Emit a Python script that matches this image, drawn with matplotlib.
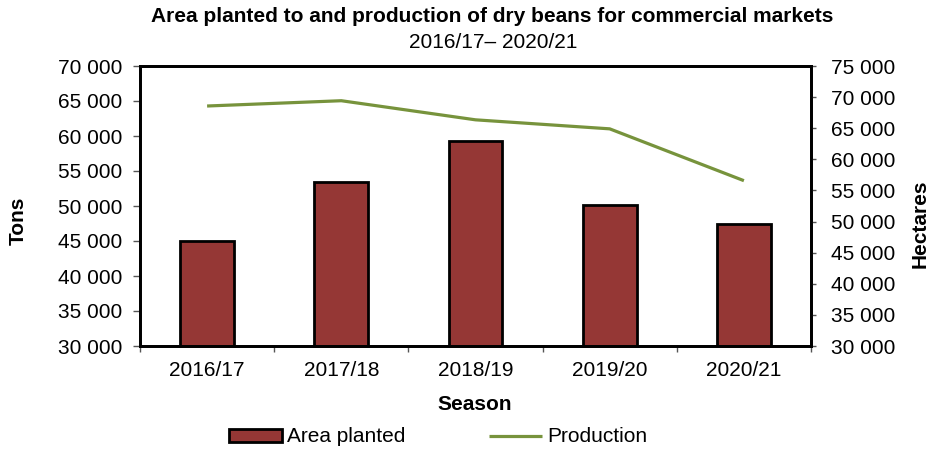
import matplotlib.pyplot as plt
import numpy as np

plt.rcParams['font.family'] = ['Liberation Sans', 'DejaVu Sans']
plt.rcParams['font.size'] = 15

seasons = ['2016/17', '2017/18', '2018/19', '2019/20', '2020/21']
area_planted = [45000, 53400, 59300, 50100, 47400]
production = [68570, 69420, 66350, 64900, 56570]

tons_ticks = list(range(30000, 70001, 5000))
hectare_ticks = list(range(30000, 75001, 5000))

bar_color = '#953735'
line_color = '#77933C'
tick_color = '#555555'


def spaced(v):
    return f'{v:,}'.replace(',', ' ')


W, H = 932, 449
fig = plt.figure(figsize=(W / 100, H / 100), dpi=100)
ax = fig.add_axes([140 / W, 1 - 346 / H, 671 / W, 280 / H])
x = np.arange(len(seasons))

ax.bar(x, area_planted, width=0.4, color=bar_color, edgecolor='black',
       linewidth=2, label='Area planted', zorder=2)
ax.set_ylim(30000, 70000)
ax.set_yticks(tons_ticks)
ax.set_yticklabels([spaced(v) for v in tons_ticks])
ax.set_xlim(-0.5, len(seasons) - 0.5)
# boundaries between seasons get the tick marks, season names sit between them
ax.set_xticks(np.arange(-0.5, len(seasons), 1))
ax.set_xticklabels([])
ax.set_xticks(x, minor=True)
ax.set_xticklabels(seasons, minor=True)
ax.tick_params(axis='x', which='minor', length=0, pad=11)
ax.tick_params(axis='x', which='major', length=4, width=1, color=tick_color)
ax.tick_params(axis='y', length=5, width=1, color=tick_color, pad=8)
for sp in ax.spines.values():
    sp.set_linewidth(2)

ax2 = ax.twinx()
ax2.plot(x, production, color=line_color, linewidth=2.3, label='Production',
         solid_capstyle='butt', zorder=3)
ax2.set_ylim(30000, 75000)
ax2.set_yticks(hectare_ticks)
ax2.set_yticklabels([spaced(v) for v in hectare_ticks])
ax2.tick_params(axis='y', length=3.5, width=1, color=tick_color, pad=11)
for sp in ax2.spines.values():
    sp.set_linewidth(2)

fig.text(18 / W, 1 - 221 / H, 'Tons', rotation=90, ha='center', va='center',
         fontweight='bold')
fig.text(920 / W, 1 - 224 / H, 'Hectares', rotation=90, ha='center', va='center',
         fontweight='bold')
fig.text(475 / W, 1 - 405 / H, 'Season', ha='center', va='center', fontweight='bold')

fig.text(492 / W, 1 - 17 / H, 'Area planted to and production of dry beans for commercial markets',
         ha='center', va='center', fontweight='bold')
fig.text(493 / W, 1 - 42 / H, '2016/17– 2020/21', ha='center', va='center')

h1, l1 = ax.get_legend_handles_labels()
h2, l2 = ax2.get_legend_handles_labels()
fig.legend(h1 + h2, l1 + l2, loc='center', bbox_to_anchor=(438 / W, 1 - 437 / H),
           ncol=2, frameon=False, handlelength=2.55, handleheight=0.6,
           handletextpad=0.25, columnspacing=4.0, borderpad=0)

fig.savefig('out.png', dpi=100)
